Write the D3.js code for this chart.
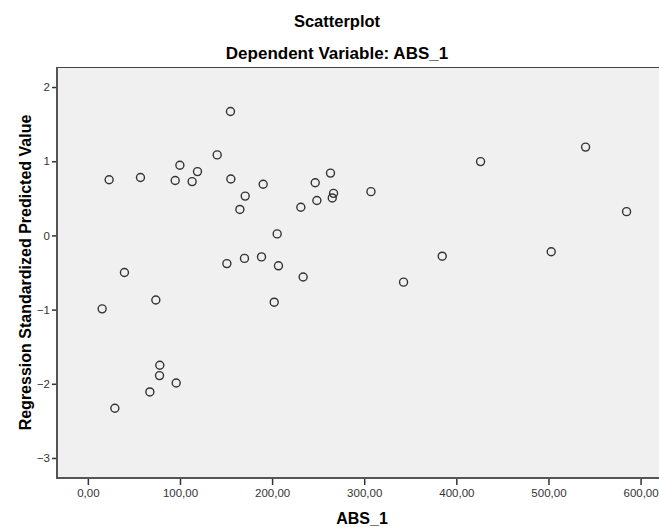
<!DOCTYPE html>
<html>
<head>
<meta charset="utf-8">
<script src="https://cdn.jsdelivr.net/npm/d3@7"></script>
<style>
  html, body { margin: 0; padding: 0; background: #fff; }
  svg { display: block; font-family: "Liberation Sans", Arial, sans-serif; }
</style>
</head>
<body>
<svg id="chart" width="659" height="527"></svg>
<script>
// values (ABS_1 vs standardized predicted value)
var absValues = [23.1, 57.1, 94.8, 99.9, 113.2, 119.0, 140.4, 154.8, 155.2, 190.3,
                 170.8, 165.0, 231.2, 246.8, 248.6, 263.4, 266.7, 265.3, 307.3, 426.3,
                 540.3, 584.8, 384.7, 503.0, 342.7, 205.5, 150.9, 170.0, 188.5, 206.9,
                 233.7, 202.3, 39.7, 15.5, 73.8, 78.1, 77.8, 95.9, 67.3, 29.3];
var predValues = [0.75, 0.78, 0.74, 0.945, 0.725, 0.86, 1.085, 1.67, 0.76, 0.69,
                  0.53, 0.35, 0.38, 0.71, 0.47, 0.84, 0.567, 0.505, 0.59, 0.995,
                  1.19, 0.32, -0.28, -0.22, -0.63, 0.02, -0.38, -0.31, -0.29, -0.41,
                  -0.56, -0.90, -0.50, -0.99, -0.87, -1.75, -1.89, -1.99, -2.11, -2.33];
var xTicks = [0, 100, 200, 300, 400, 500, 600];
var yTicks = [-3, -2, -1, 0, 1, 2];

var title = "Scatterplot";
var subtitle = "Dependent Variable: ABS_1";
var xLabel = "ABS_1";
var yLabel = "Regression Standardized Predicted Value";

var svg = d3.select("#chart");
var plotLeft = 57, plotTop = 67, plotBottom = 478, plotRight = 659;

var x = d3.scaleLinear().domain([-33.5, 620]).range([plotLeft, plotRight]);
var y = d3.scaleLinear().domain([-3.27, 2.27]).range([plotBottom, plotTop]);

var points = absValues.map(function (d, i) { return { x: d, y: predValues[i] }; });

// plot background (runs off the right edge like the original)
svg.append("rect")
    .attr("x", plotLeft).attr("y", plotTop)
    .attr("width", plotRight + 20 - plotLeft).attr("height", plotBottom - plotTop)
    .attr("fill", "#f0f0f0");

svg.append("line")
    .attr("x1", plotLeft).attr("x2", plotRight + 20)
    .attr("y1", plotTop + 0.5).attr("y2", plotTop + 0.5)
    .attr("stroke", "#444").attr("stroke-width", 1);

var fmt = function (d) { return d3.format(".2f")(d).replace(".", ","); };

var xAxis = svg.append("g")
    .attr("transform", "translate(0," + plotBottom + ")")
    .call(d3.axisBottom(x).tickValues(xTicks).tickSize(7).tickPadding(4).tickFormat(fmt));

var yAxis = svg.append("g")
    .attr("transform", "translate(" + plotLeft + ",0)")
    .call(d3.axisLeft(y).tickValues(yTicks).tickSize(5).tickPadding(2).tickFormat(d3.format("d")));

[xAxis, yAxis].forEach(function (g) {
    g.select(".domain").remove();
    g.selectAll(".tick line").attr("stroke", "#333").attr("stroke-width", 1.5);
    g.selectAll(".tick text")
        .attr("fill", "#333")
        .style("font-size", "11.5px")
        .style("font-family", "'Liberation Sans', Arial, sans-serif");
});

// heavier left and bottom frame
svg.append("line")
    .attr("x1", plotLeft).attr("x2", plotLeft)
    .attr("y1", plotTop).attr("y2", plotBottom + 1)
    .attr("stroke", "#555").attr("stroke-width", 2);
svg.append("line")
    .attr("x1", plotLeft - 1).attr("x2", plotRight + 20)
    .attr("y1", plotBottom).attr("y2", plotBottom)
    .attr("stroke", "#555").attr("stroke-width", 2);

svg.selectAll(".dot")
    .data(points)
    .enter()
    .append("circle")
    .attr("class", "dot")
    .attr("cx", function (d) { return x(d.x); })
    .attr("cy", function (d) { return y(d.y); })
    .attr("r", 4)
    .attr("fill", "none")
    .attr("stroke", "#333")
    .attr("stroke-width", 1.4);

svg.append("text")
    .attr("x", 337).attr("y", 27)
    .attr("text-anchor", "middle")
    .style("font-size", "16.5px").style("font-weight", "bold")
    .text(title);

svg.append("text")
    .attr("x", 337).attr("y", 59)
    .attr("text-anchor", "middle")
    .style("font-size", "17px").style("font-weight", "bold")
    .text(subtitle);

svg.append("text")
    .attr("x", 362).attr("y", 524)
    .attr("text-anchor", "middle")
    .style("font-size", "16px").style("font-weight", "bold")
    .text(xLabel);

svg.append("text")
    .attr("transform", "translate(31," + ((plotTop + plotBottom) / 2) + ") rotate(-90)")
    .attr("text-anchor", "middle")
    .style("font-size", "16px").style("font-weight", "bold")
    .text(yLabel);
</script>
</body>
</html>
